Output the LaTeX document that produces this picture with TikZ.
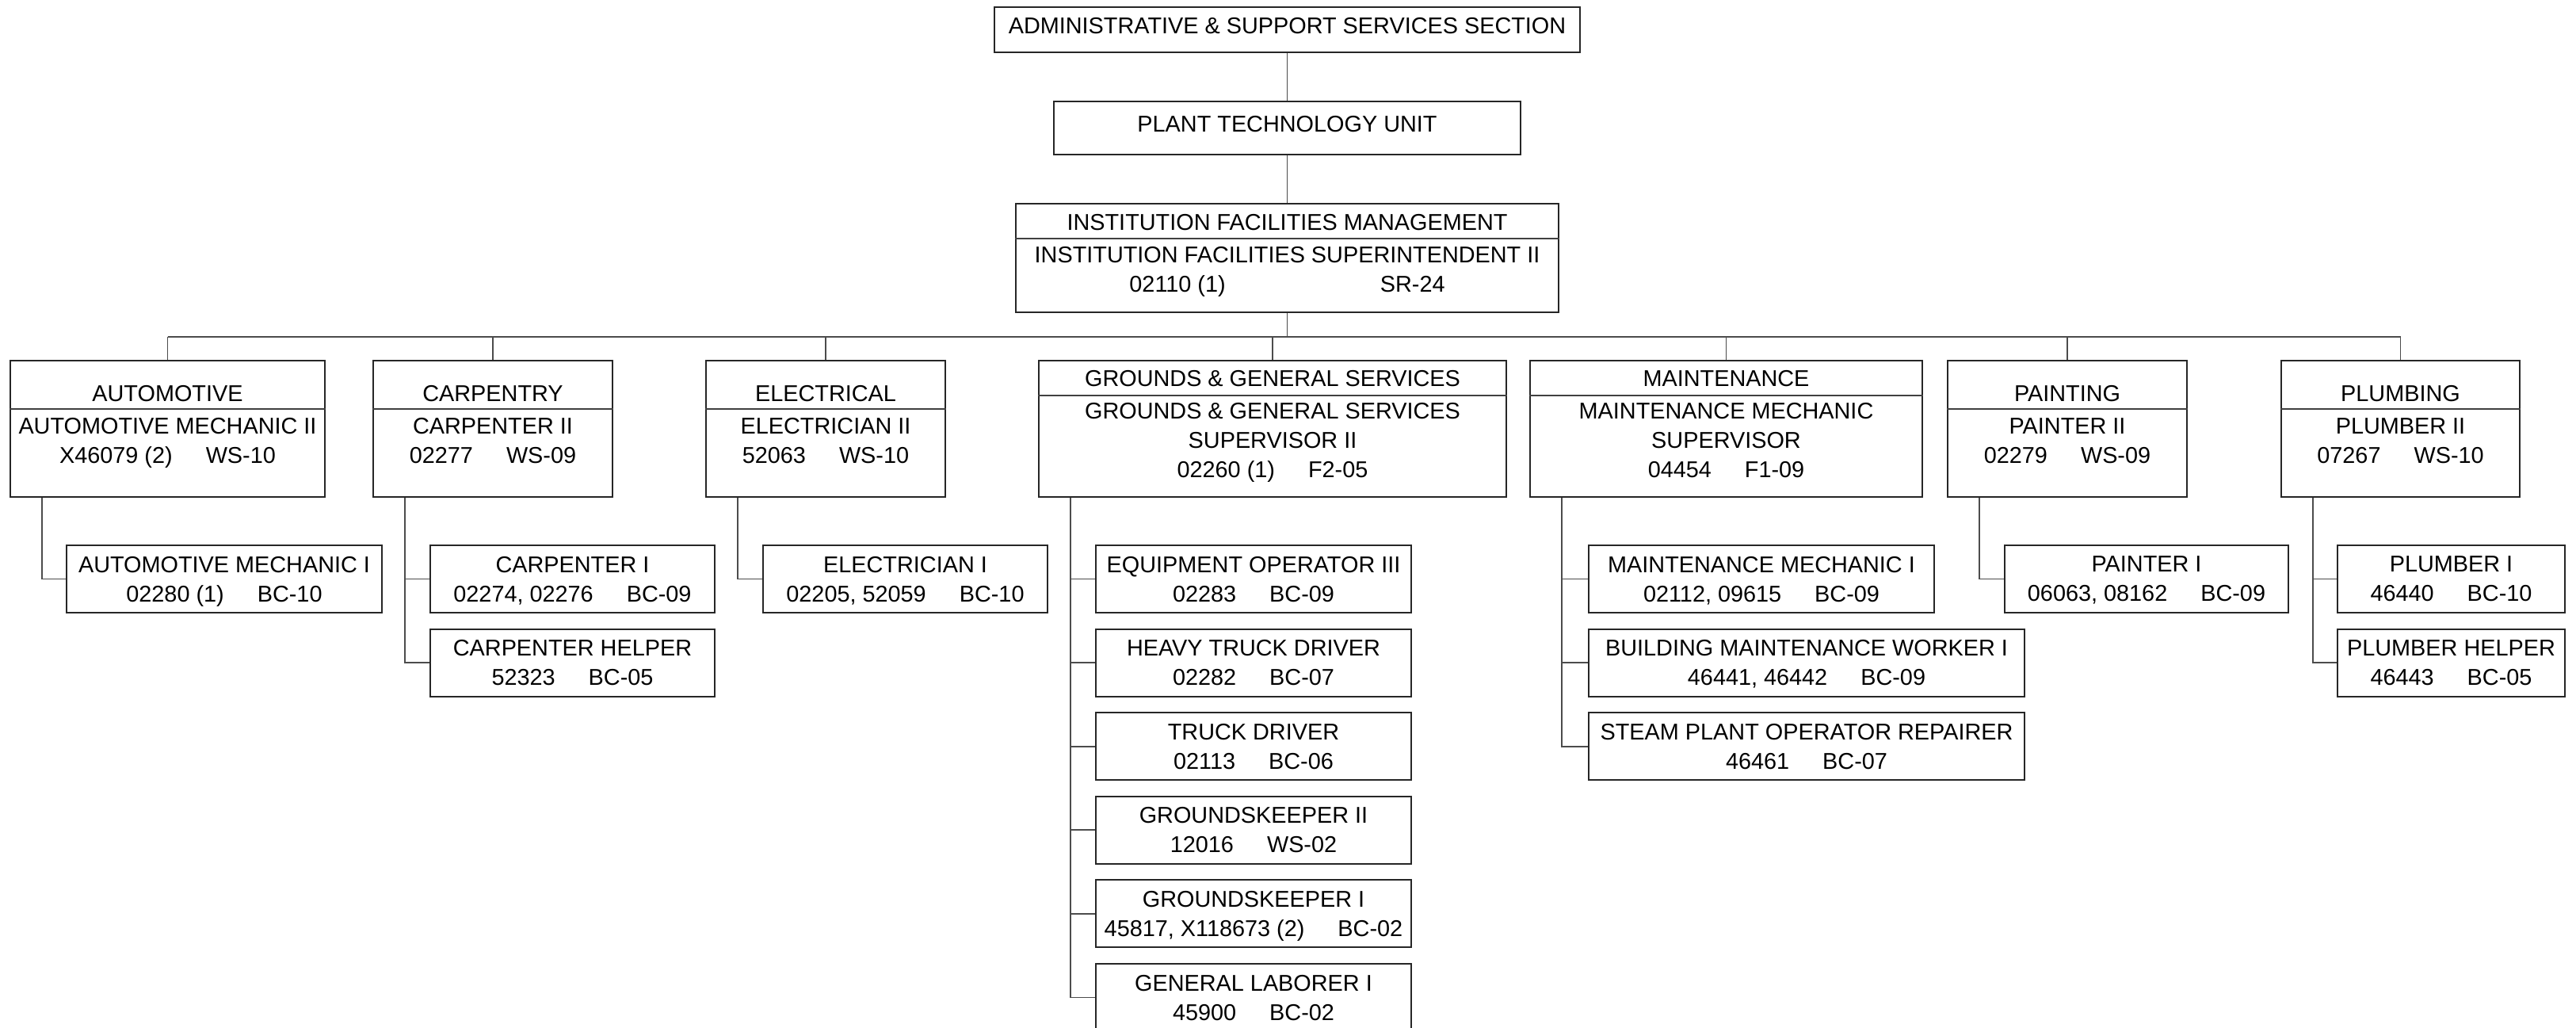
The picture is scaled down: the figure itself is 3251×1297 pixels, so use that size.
\documentclass[tikz,border=0pt]{standalone}
\usepackage{fontspec}
\setmainfont{Liberation Sans}
\usetikzlibrary{calc, positioning}
\newcommand{\codegap}{\hspace{4.2mm}}

\begin{document}
\begin{tikzpicture}[x=0.01cm,y=-0.01cm,
  font=\fontsize{8.2}{10.53}\selectfont,
  unit/.style={draw=black!85,line width=0.6pt,inner sep=0pt,align=center},
  job/.style={unit,minimum height=0.85cm,text depth=0pt},
  dept/.style={unit,minimum height=1.72cm},
  txt/.style={inner sep=0pt,text depth=0pt,align=center},
  divider/.style={draw=black!75,line width=0.55pt},
  link/.style={draw=black!70,line width=0.5pt}]
\useasboundingbox (0,0) rectangle (3251,1297);

\node[unit,minimum width=7.39cm,minimum height=0.57cm,text depth=1mm] (admin) at (1624.5,37.5) {ADMINISTRATIVE \& SUPPORT SERVICES SECTION};
\node[unit,minimum width=5.89cm,minimum height=0.67cm,text depth=1mm] (plant) at (1624.5,161.5) {PLANT TECHNOLOGY UNIT};
\node[unit,minimum width=6.85cm,minimum height=1.37cm] (ifm) at (1624.5,325.5) {};
\node[txt] (ifm-h) at (1624.5,280) {INSTITUTION FACILITIES MANAGEMENT};
\node[txt] (ifm-b) at (1624.5,340) {INSTITUTION FACILITIES SUPERINTENDENT II\\02110 (1)\hspace{1.95cm}SR-24};
\draw[divider] (ifm.west |- 0,301) -- (ifm.east |- 0,301);

\coordinate (bus) at (1624.5,425);
\draw[link] (admin.south) -- (plant.north);
\draw[link] (plant.south) -- (ifm.north);
\draw[link] (ifm.south) -- (bus);

\node[dept,minimum width=3.97cm] (auto) at (211.5,541) {};
\node[txt] (auto-h) at (211.5,496) {AUTOMOTIVE};
\node[txt] (auto-b) at (211.5,556) {AUTOMOTIVE MECHANIC II\\X46079 (2)\codegap WS-10};

\node[dept,minimum width=3.02cm] (carp) at (622,541) {};
\node[txt] (carp-h) at (622,496) {CARPENTRY};
\node[txt] (carp-b) at (622,556) {CARPENTER II\\02277\codegap WS-09};

\node[dept,minimum width=3.02cm] (elec) at (1042,541) {};
\node[txt] (elec-h) at (1042,496) {ELECTRICAL};
\node[txt] (elec-b) at (1042,556) {ELECTRICIAN II\\52063\codegap WS-10};

\node[dept,minimum width=5.90cm] (grnd) at (1606,541) {};
\node[txt] (grnd-h) at (1606,477) {GROUNDS \& GENERAL SERVICES};
\node[txt] (grnd-b) at (1606,555.5) {GROUNDS \& GENERAL SERVICES\\SUPERVISOR II\\02260 (1)\codegap F2-05};

\node[dept,minimum width=4.95cm] (mnt) at (2178.5,541) {};
\node[txt] (mnt-h) at (2178.5,477) {MAINTENANCE};
\node[txt] (mnt-b) at (2178.5,555.5) {MAINTENANCE MECHANIC\\SUPERVISOR\\04454\codegap F1-09};

\node[dept,minimum width=3.02cm] (paint) at (2609,541) {};
\node[txt] (paint-h) at (2609,496) {PAINTING};
\node[txt] (paint-b) at (2609,556) {PAINTER II\\02279\codegap WS-09};

\node[dept,minimum width=3.01cm] (plumb) at (3029.5,541) {};
\node[txt] (plumb-h) at (3029.5,496) {PLUMBING};
\node[txt] (plumb-b) at (3029.5,556) {PLUMBER II\\07267\codegap WS-10};

\foreach \d/\y in {auto/516,carp/516,elec/516,grnd/499,mnt/499,paint/516,plumb/516}
  \draw[divider] (\d.west |- 0,\y) -- (\d.east |- 0,\y);

\draw[link] (auto.north |- bus) -- (plumb.north |- bus);
\foreach \d in {auto,carp,elec,grnd,mnt,paint,plumb}
  \draw[link] (\d.north |- bus) -- (\d.north);

\node[job,minimum width=3.98cm] (am1) at (283,730.5) {AUTOMOTIVE MECHANIC I\\02280 (1)\codegap BC-10};

\node[job,minimum width=3.59cm] (cp1) at (722.5,730.5) {CARPENTER I\\02274, 02276\codegap BC-09};
\node[job,minimum width=3.59cm] (cph) at (722.5,836.1) {CARPENTER HELPER\\52323\codegap BC-05};

\node[job,minimum width=3.59cm] (el1) at (1142.5,730.5) {ELECTRICIAN I\\02205, 52059\codegap BC-10};

\node[job,minimum width=3.98cm] (eq3) at (1582,730.5) {EQUIPMENT OPERATOR III\\02283\codegap BC-09};
\node[job,minimum width=3.98cm] (htd) at (1582,836.1) {HEAVY TRUCK DRIVER\\02282\codegap BC-07};
\node[job,minimum width=3.98cm] (trd) at (1582,941.7) {TRUCK DRIVER\\02113\codegap BC-06};
\node[job,minimum width=3.98cm] (gk2) at (1582,1047.3) {GROUNDSKEEPER II\\12016\codegap WS-02};
\node[job,minimum width=3.98cm] (gk1) at (1582,1152.9) {GROUNDSKEEPER I\\45817, X118673 (2)\codegap BC-02};
\node[job,minimum width=3.98cm] (gl1) at (1582,1258.5) {GENERAL LABORER I\\45900\codegap BC-02};

\node[job,minimum width=4.36cm] (mm1) at (2223,730.5) {MAINTENANCE MECHANIC I\\02112, 09615\codegap BC-09};
\node[job,minimum width=5.50cm] (bmw) at (2280,836.1) {BUILDING MAINTENANCE WORKER I\\46441, 46442\codegap BC-09};
\node[job,minimum width=5.50cm] (spo) at (2280,941.7) {STEAM PLANT OPERATOR REPAIRER\\46461\codegap BC-07};

\node[job,minimum width=3.58cm] (pt1) at (2709,730.5) {PAINTER I\\06063, 08162\codegap BC-09};

\node[job,minimum width=2.87cm] (pb1) at (3093.5,730.5) {PLUMBER I\\46440\codegap BC-10};
\node[job,minimum width=2.87cm] (pbh) at (3093.5,836.1) {PLUMBER HELPER\\46443\codegap BC-05};

\foreach \d in {auto,carp,elec,grnd,mnt,paint,plumb}
  \coordinate (\d-t) at ($(\d.south west)+(41,0)$);
\draw[link] (auto-t) |- (am1.west);
\draw[link] (carp-t) |- (cp1.west);
\draw[link] (carp-t) |- (cph.west);
\draw[link] (elec-t) |- (el1.west);
\foreach \j in {eq3,htd,trd,gk2,gk1,gl1}
  \draw[link] (grnd-t) |- (\j.west);
\foreach \j in {mm1,bmw,spo}
  \draw[link] (mnt-t) |- (\j.west);
\draw[link] (paint-t) |- (pt1.west);
\draw[link] (plumb-t) |- (pb1.west);
\draw[link] (plumb-t) |- (pbh.west);
\end{tikzpicture}
\end{document}
